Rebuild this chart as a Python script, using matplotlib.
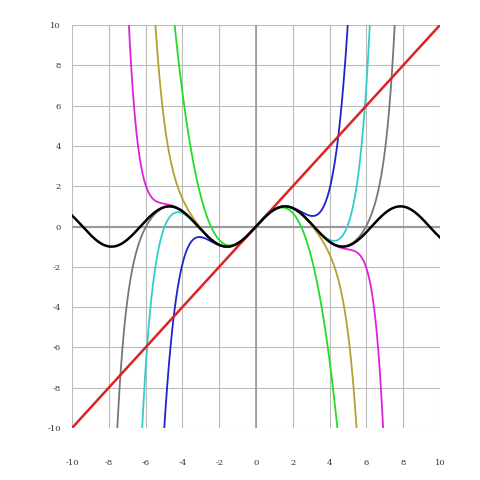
import numpy as np
import matplotlib
matplotlib.use("Agg")
import matplotlib.pyplot as plt
from math import factorial

plt.rcParams["axes.unicode_minus"] = False
degrees = [1, 3, 5, 7, 9, 11, 13]
colors = ["#dd2222", "#22dd22", "#2222cc", "#b8a030", "#33cccc", "#dd22dd", "#777777"]
ticks = [-10, -8, -6, -4, -2, 0, 2, 4, 6, 8, 10]

fig = plt.figure(figsize=(4.8, 4.8), dpi=100)
ax = fig.add_axes([72/480, 1-428/480, 368/480, 403/480])
x = np.linspace(-10, 10, 4000)
for t in ticks:
    ax.axvline(t, color="#bbbbbb", lw=0.8, zorder=0)
    ax.axhline(t, color="#bbbbbb", lw=0.8, zorder=0)
ax.axvline(0, color="#999999", lw=1.2, zorder=0)
ax.axhline(0, color="#999999", lw=1.5, zorder=0)
order = [6, 5, 4, 3, 2, 1, 0]
for i in order:
    d = degrees[i]
    y = sum((-1)**k * x**(2*k+1) / factorial(2*k+1) for k in range((d-1)//2 + 1))
    ax.plot(x, y, color=colors[i], lw=1.3 if d > 1 else 1.8, zorder=2)
ax.plot(x, np.sin(x), color="black", lw=1.8, zorder=3)
ax.set_xlim(-10, 10)
ax.set_ylim(-10, 10)
ax.set_xticks(ticks)
ax.set_yticks(ticks)
for s in ax.spines.values():
    s.set_visible(False)
ax.tick_params(length=0, labelsize=6, colors="#333333", pad=22)
ax.tick_params(axis="y", pad=8)
for lab in ax.get_xticklabels() + ax.get_yticklabels():
    lab.set_family("DejaVu Serif")
fig.savefig("out.png", dpi=100, facecolor="white")
